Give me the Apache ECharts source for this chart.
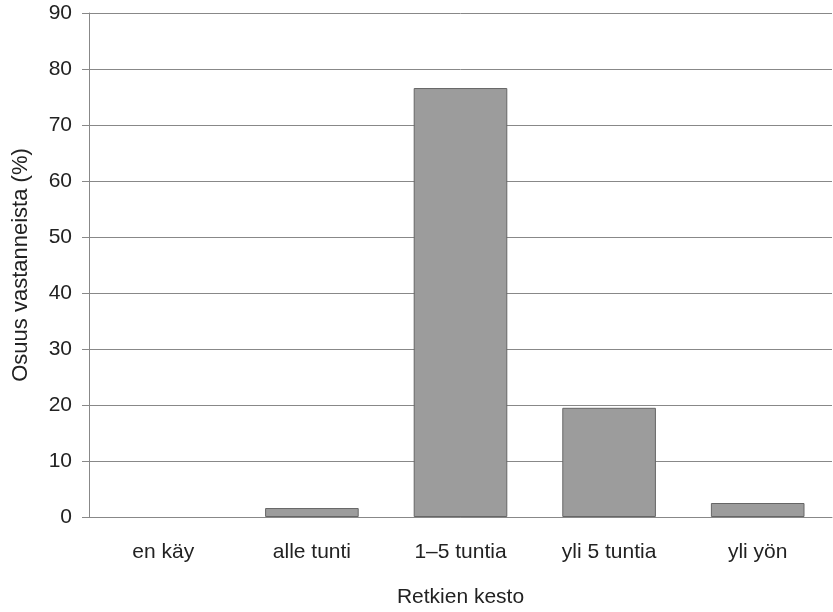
<!DOCTYPE html>
<html><head><meta charset="utf-8">
<script src="https://cdn.jsdelivr.net/npm/echarts@6/dist/echarts.min.js"></script>
<style>html,body{margin:0;padding:0;background:#fff}#c{width:833px;height:612px}</style>
</head><body><div id="c"></div>
<script>
const categories = ["en käy", "alle tunti", "1–5 tuntia", "yli 5 tuntia", "yli yön"];
const values = [0, 1.6, 76.6, 19.5, 2.5];
const yTicks = [0, 10, 20, 30, 40, 50, 60, 70, 80, 90];

const chart = echarts.init(document.getElementById('c'), null, {renderer: 'canvas'});
const font = 'Liberation Sans, Arial, Helvetica, sans-serif';
const barData = values.map(v => v === 0 ? {value: v, itemStyle: {borderWidth: 0}} : v);
chart.setOption({
  backgroundColor: '#fff',
  animation: false,
  grid: {left: 89, right: 1, top: 13, bottom: 95, containLabel: false, outerBoundsMode: 'none'},
  xAxis: {
    type: 'category', data: categories,
    name: 'Retkien kesto', nameLocation: 'middle', nameGap: 70,
    nameTextStyle: {fontFamily: font, fontSize: 21, color: '#222'},
    axisLine: {show: true, lineStyle: {color: '#888', width: 1}},
    axisTick: {show: false},
    axisLabel: {fontFamily: font, fontSize: 21, color: '#222', margin: 25}
  },
  yAxis: {
    type: 'value', min: yTicks[0], max: yTicks[yTicks.length-1], interval: 10,
    name: 'Osuus vastanneista (%)', nameLocation: 'middle', nameGap: 57,
    nameTextStyle: {fontFamily: font, fontSize: 22, color: '#222'},
    axisLine: {show: true, lineStyle: {color: '#888', width: 1}},
    axisTick: {show: true, length: 7, lineStyle: {color: '#888'}},
    axisLabel: {fontFamily: font, fontSize: 21, color: '#222', margin: 17},
    splitLine: {show: true, lineStyle: {color: '#888', width: 1}}
  },
  series: [{
    type: 'bar', data: barData, barWidth: '63%',
    itemStyle: {color: '#9c9c9c', borderColor: '#666', borderWidth: 1}
  }]
});
</script></body></html>
